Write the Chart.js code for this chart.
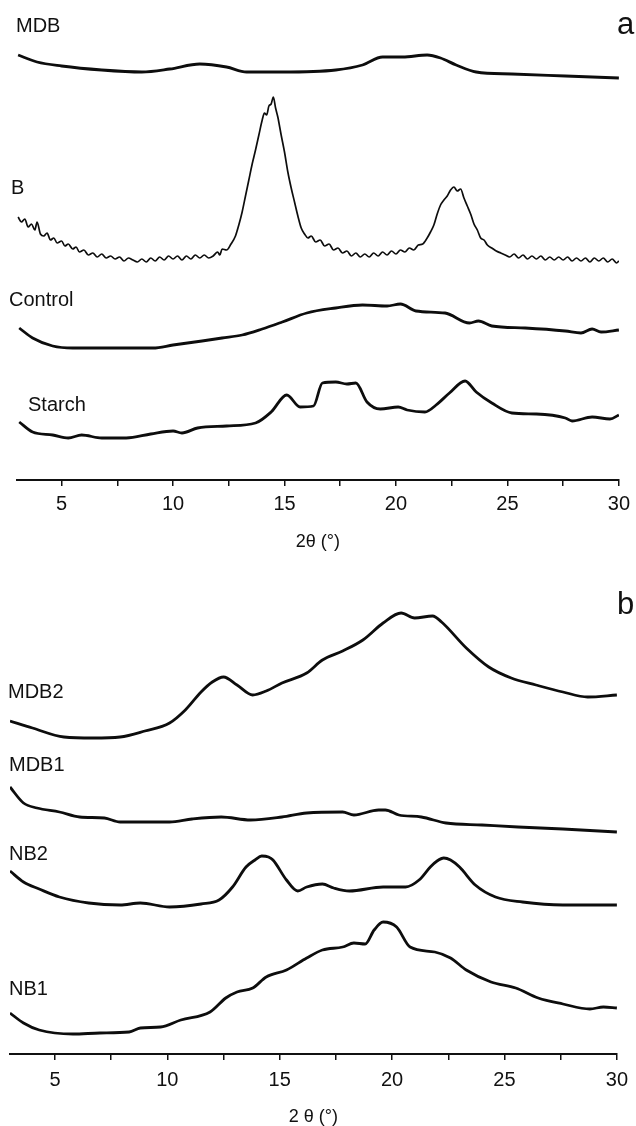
<!DOCTYPE html>
<html>
<head>
<meta charset="utf-8">
<script src="https://cdn.jsdelivr.net/npm/chart.js@4.4.1/dist/chart.umd.min.js"></script>
<style>
  html, body { margin: 0; padding: 0; background: #fff; overflow: hidden; }
  #wrap { position: relative; width: 636px; height: 1126px; font-family: "Liberation Sans", Arial, sans-serif; color: #111; }
  .pane { position: absolute; left: 0; width: 636px; }
  .lbl { position: absolute; font-size: 20px; line-height: 1; transform: translateY(-50%); white-space: nowrap; }
  .tag { position: absolute; font-size: 31px; line-height: 1; transform: translateY(-50%); }
</style>
</head>
<body>
<div id="wrap">
  <div class="pane" style="top:0;height:580px"><canvas id="chartA"></canvas></div>
  <div class="pane" style="top:580px;height:566px"><canvas id="chartB"></canvas></div>

  <div class="lbl" style="left:16px;top:25px">MDB</div>
  <div class="tag" style="left:617px;top:23px">a</div>
  <div class="lbl" style="left:11px;top:187px">B</div>
  <div class="lbl" style="left:9px;top:299px">Control</div>
  <div class="lbl" style="left:28px;top:404px">Starch</div>

  <div class="tag" style="left:617px;top:603px">b</div>
  <div class="lbl" style="left:8px;top:691px">MDB2</div>
  <div class="lbl" style="left:9px;top:764px">MDB1</div>
  <div class="lbl" style="left:9px;top:853px">NB2</div>
  <div class="lbl" style="left:9px;top:988px">NB1</div>
</div>
<script>
// panel a (intensity, arbitrary offset units)
const mdbTheta = [3.05, 3.9, 5, 6.8, 8.6, 9.85, 11.2, 12.4, 13.3, 14.9, 17.3, 18.5, 19.4, 20.3, 21.4, 22, 22.7, 23.6, 25.2, 27.6, 30];
const mdbInt   = [425, 418, 414, 410, 408, 411, 416, 413, 408, 408, 410, 415, 423, 423, 425, 422, 415, 408, 406, 404, 402];

const bTheta = [3.05, 3.2, 3.35, 3.5, 3.65, 3.8, 3.9, 4.05, 4.2, 4.35, 4.5, 4.65, 4.8, 5, 5.15, 5.3, 5.5, 5.65, 5.8, 6,
  6.2, 6.4, 6.6, 6.8, 7, 7.2, 7.4, 7.6, 7.8, 8, 8.2, 8.4, 8.6, 8.8, 9, 9.2, 9.4, 9.6, 9.8, 10,
  10.2, 10.4, 10.6, 10.8, 11, 11.2, 11.4, 11.6, 11.8, 12, 12.1, 12.2, 12.4, 12.6, 12.8, 12.95, 13.1, 13.25, 13.4, 13.55,
  13.7, 13.85, 14, 14.1, 14.2, 14.3, 14.4, 14.5, 14.6, 14.7, 14.85, 15, 15.15, 15.3, 15.45, 15.6, 15.75, 15.9, 16.05, 16.2,
  16.4, 16.6, 16.8, 17, 17.2, 17.4, 17.6, 17.8, 18, 18.2, 18.4, 18.6, 18.8, 19, 19.2, 19.4, 19.6, 19.8, 20, 20.2,
  20.4, 20.6, 20.8, 21, 21.2, 21.4, 21.55, 21.7, 21.85, 22, 22.15, 22.3, 22.45, 22.6, 22.75, 22.9, 23.05, 23.2, 23.35, 23.5,
  23.65, 23.8, 23.95, 24.1, 24.3, 24.5, 24.7, 24.9, 25.1, 25.3, 25.5, 25.7, 25.9, 26.1, 26.3, 26.5, 26.7, 26.9, 27.1, 27.3,
  27.5, 27.7, 27.9, 28.1, 28.3, 28.5, 28.7, 28.9, 29.1, 29.3, 29.5, 29.7, 29.9, 30];
const bInt = [263, 258, 261, 253, 256, 250, 258, 246, 244, 247, 240, 242, 237, 239, 234, 236, 231, 233, 228, 230,
  225, 227, 223, 226, 222, 224, 221, 223, 219, 222, 220, 218, 221, 218, 222, 219, 223, 220, 224, 221,
  224, 220, 224, 221, 225, 222, 225, 222, 224, 228, 225, 231, 230, 236, 244, 255, 268, 284, 300, 316,
  330, 345, 360, 367, 365, 374, 376, 383, 372, 363, 345, 328, 308, 292, 278, 264, 252, 246, 242, 244,
  238, 240, 234, 236, 230, 232, 227, 229, 224, 227, 223, 226, 223, 227, 224, 228, 225, 229, 226, 230,
  228, 232, 230, 235, 236, 242, 248, 255, 266, 275, 280, 284, 290, 293, 289, 291, 282, 274, 266, 256,
  250, 242, 240, 235, 232, 229, 227, 225, 223, 226, 222, 225, 221, 224, 221, 224, 220, 223, 220, 223,
  220, 223, 219, 222, 219, 222, 218, 222, 219, 222, 218, 221, 217, 219];

const controlTheta = [3.1, 3.7, 4.6, 5.5, 6.8, 8, 9.1, 10, 11.3, 12.2, 13.1, 14, 14.9, 16, 17.3, 18.5, 19.6, 20.2, 20.9, 22.2, 23.3, 23.7, 24.3, 25.8, 27.6, 28.3, 28.8, 29.2, 30];
const controlInt   = [152, 142, 134, 132, 132, 132, 132, 135, 139, 142, 145, 151, 158, 167, 172, 175, 174, 176, 169, 167, 157, 159, 154, 152, 149, 147, 151, 148, 150];

const starchTheta = [3.1, 3.7, 4.6, 5.3, 5.9, 6.8, 7.9, 9, 10, 10.4, 11.1, 12.4, 13.7, 14.4, 15.1, 15.7, 16.3, 16.7, 17.3, 17.8, 18.2, 18.7, 19.3, 20.1, 20.5, 21.3, 21.8, 22.4, 23.1, 23.6, 24.3, 25.2, 26.3, 27.6, 27.9, 28.8, 29.6, 30];
const starchInt   = [58, 48, 45, 42, 45, 42, 42, 46, 49, 47, 52, 54, 57, 68, 85, 73, 74, 97, 98, 96, 97, 78, 71, 73, 70, 68, 75, 87, 99, 88, 77, 67, 66, 62, 59, 63, 61, 65];

// panel b
const mdb2Theta = [3, 4, 5.4, 6.7, 7.9, 9, 10.1, 10.8, 11.5, 12, 12.5, 13.1, 13.8, 14.4, 15.1, 16.2, 16.9, 17.8, 18.7, 19.6, 20.4, 21, 21.8, 22.2, 23.3, 24.3, 25.3, 26.4, 27.6, 28.7, 30];
const mdb2Int   = [333, 326, 317, 316, 317, 323, 331, 344, 362, 372, 377, 369, 359, 363, 371, 381, 394, 403, 414, 431, 441, 436, 438, 432, 406, 387, 376, 369, 362, 357, 359];

const mdb1Theta = [3, 3.6, 4.2, 5.2, 6.1, 7.2, 7.9, 10.1, 11.1, 12.4, 13.7, 15.1, 16.2, 17.8, 18.3, 19.4, 19.7, 20.3, 21.3, 22.4, 24, 25.6, 27.6, 30];
const mdb1Int   = [267, 251, 246, 242, 237, 236, 232, 232, 235, 237, 234, 237, 241, 242, 239, 244, 244, 239, 237, 231, 229, 227, 225, 222];

const nb2Theta = [3, 3.6, 4.3, 5.2, 6.5, 7.9, 8.8, 10.1, 11.5, 12.3, 12.9, 13.5, 13.9, 14.2, 14.5, 14.7, 15.3, 15.8, 16.2, 16.9, 17.4, 18.1, 19.6, 20.6, 21.2, 21.7, 22, 22.3, 22.6, 23, 23.7, 24.6, 25.8, 27.6, 30];
const nb2Int   = [183, 172, 165, 157, 151, 149, 151, 147, 150, 154, 167, 187, 194, 198, 197, 194, 174, 163, 167, 170, 166, 163, 167, 167, 174, 187, 193, 196, 194, 187, 169, 157, 152, 149, 149];

const nb1Theta = [3, 3.6, 4.3, 5.8, 7, 8.3, 8.8, 9.7, 10.6, 11.9, 12.6, 13.1, 13.8, 14.4, 15.3, 16.2, 16.9, 17.8, 18.3, 18.8, 19.2, 19.6, 20.2, 20.8, 21.9, 22.6, 23.3, 24.4, 25.5, 26.5, 27.6, 28.8, 29.4, 30];
const nb1Int   = [41, 31, 24, 20, 21, 22, 26, 27, 34, 42, 56, 62, 66, 77, 84, 96, 104, 107, 111, 110, 124, 132, 127, 107, 102, 96, 84, 72, 66, 56, 50, 45, 47, 46];

const tickFont = { family: "'Liberation Sans', Arial, sans-serif", size: 20 };
const titleFont = { family: "'Liberation Sans', Arial, sans-serif", size: 18 };

function series(theta, vals, width) {
  return {
    data: theta.map((t, i) => ({ x: t, y: vals[i] })),
    borderColor: "#0d0d0d",
    borderWidth: width,
    pointRadius: 0,
    cubicInterpolationMode: "monotone",
    fill: false
  };
}

function xAxis(titleText, scaleHeight, tickPad, titleBottom) {
  return {
    type: "linear",
    min: 3,
    max: 30,
    border: { display: true, color: "#111", width: 2 },
    grid: { display: true, drawOnChartArea: false, drawTicks: true, tickLength: 6, color: "#111", lineWidth: 1.5 },
    ticks: {
      stepSize: 2.5,
      includeBounds: false,
      autoSkip: false,
      maxRotation: 0,
      padding: tickPad,
      color: "#111",
      font: tickFont,
      callback: (v) => (v % 5 === 0 ? String(v) : "")
    },
    title: { display: true, text: titleText, color: "#111", font: titleFont, padding: { top: 0, bottom: titleBottom } },
    afterFit: (s) => { s.height = scaleHeight; }
  };
}

function build(id, datasets, yMax, padLeft, x) {
  return new Chart(document.getElementById(id), {
    type: "line",
    data: { datasets },
    options: {
      responsive: true,
      maintainAspectRatio: false,
      animation: false,
      layout: { padding: { left: padLeft, right: 14, top: 20, bottom: 0 } },
      plugins: { legend: { display: false }, tooltip: { enabled: false } },
      scales: {
        x,
        y: { display: false, min: 0, max: yMax }
      }
    }
  });
}

build("chartA", [
  series(mdbTheta, mdbInt, 2.8),
  series(bTheta, bInt, 1.7),
  series(controlTheta, controlInt, 2.8),
  series(starchTheta, starchInt, 2.8)
], 460, 17, xAxis("2θ (°)", 100, 6, 27));

build("chartB", [
  series(mdb2Theta, mdb2Int, 2.8),
  series(mdb1Theta, mdb1Int, 2.8),
  series(nb2Theta, nb2Int, 2.8),
  series(nb1Theta, nb1Int, 2.8)
], 454, 10, xAxis("2 θ (°)", 92, 8, 18));
</script>
</body>
</html>
